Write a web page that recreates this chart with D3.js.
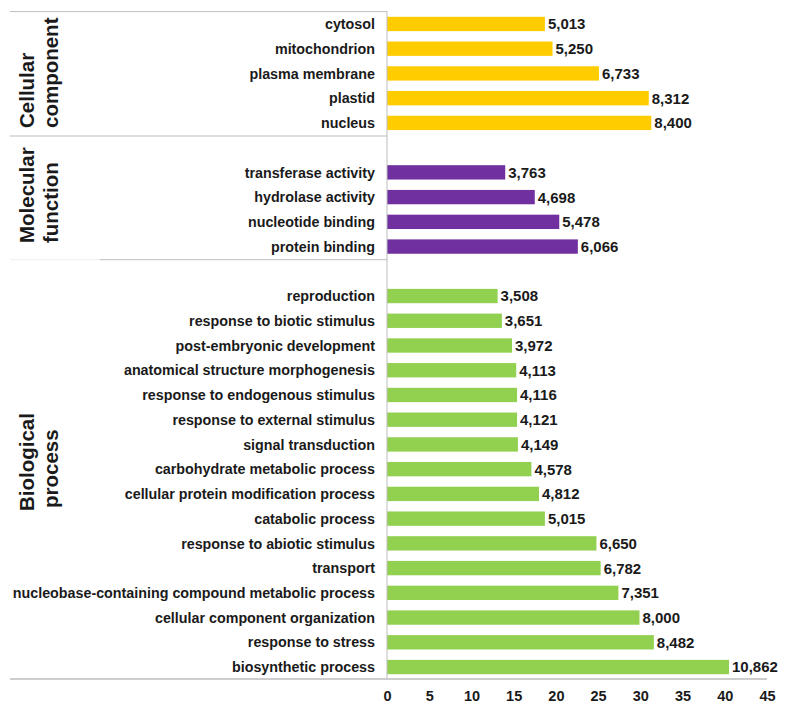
<!DOCTYPE html>
<html><head><meta charset="utf-8">
<script src="https://cdn.jsdelivr.net/npm/d3@7"></script>
<style>body{margin:0;background:#fff}svg{display:block}text{font-family:"Liberation Sans",Arial,sans-serif;font-weight:bold;fill:#1a1a1a}</style>
</head><body>
<svg id="c" width="789" height="718"></svg>
<script>
// Cellular component
const ccLabels = ["cytosol","mitochondrion","plasma membrane","plastid","nucleus"];
const ccCounts = [5013,5250,6733,8312,8400];
const ccPct = [18.7,19.6,25.1,31.0,31.3];
// Molecular function
const mfLabels = ["transferase activity","hydrolase activity","nucleotide binding","protein binding"];
const mfCounts = [3763,4698,5478,6066];
const mfPct = [14.0,17.5,20.4,22.6];
// Biological process
const bpLabels = ["reproduction","response to biotic stimulus","post-embryonic development","anatomical structure morphogenesis","response to endogenous stimulus","response to external stimulus","signal transduction","carbohydrate metabolic process","cellular protein modification process","catabolic process","response to abiotic stimulus","transport","nucleobase-containing compound metabolic process","cellular component organization","response to stress","biosynthetic process"];
const bpCounts = [3508,3651,3972,4113,4116,4121,4149,4578,4812,5015,6650,6782,7351,8000,8482,10862];
const bpPct = [13.1,13.6,14.8,15.3,15.4,15.4,15.5,17.1,18.0,18.7,24.8,25.3,27.4,29.9,31.6,40.5];
const xTicks = [0,5,10,15,20,25,30,35,40,45];
const groupNames = [["Cellular","component"],["Molecular","function"],["Biological","process"]];
const colors = ["#FFCC00","#7030A0","#92D050"];

const groups = [
  {labels:ccLabels,counts:ccCounts,pct:ccPct},
  {labels:mfLabels,counts:mfCounts,pct:mfPct},
  {labels:bpLabels,counts:bpCounts,pct:bpPct}
];
const rows = []; const slots = [];
groups.forEach((g,gi)=>{
  if(gi>0) slots.push("blank"+gi);
  g.labels.forEach((l,i)=>{ slots.push(l); rows.push({label:l,count:g.counts[i],pct:g.pct[i],g:gi}); });
});

const svg = d3.select("#c");
const x = d3.scaleLinear().domain([0,45]).range([387,767]);
const y = d3.scaleBand().domain(slots).range([11.6,679.4]).paddingInner(0.42).paddingOuter(0.21);
const fmt = d3.format(",");
const cy = l => y(l)+y.bandwidth()/2;

// bars
svg.append("g").selectAll("rect").data(rows).join("rect")
  .attr("x",x(0)).attr("y",d=>y(d.label)).attr("width",d=>x(d.pct)-x(0)).attr("height",y.bandwidth())
  .attr("fill",d=>colors[d.g]);

// value labels
svg.append("g").selectAll("text").data(rows).join("text")
  .attr("x",d=>x(d.pct)+3).attr("y",d=>cy(d.label)).attr("dy","0.36em")
  .style("font-size","15px").text(d=>fmt(d.count));

// category labels
svg.append("g").selectAll("text").data(rows).join("text")
  .attr("x",375).attr("y",d=>cy(d.label)).attr("dy","0.36em")
  .attr("text-anchor","end").style("font-size","14.3px").text(d=>d.label);

// section lines
const lineC = "#bdbdbd";
const sep1 = cy(ccLabels[ccLabels.length-1]) + y.step()*0.53;
const sep2 = cy(mfLabels[mfLabels.length-1]) + y.step()*0.53;
svg.append("line").attr("x1",10).attr("x2",x(0)).attr("y1",11.6).attr("y2",11.6).attr("stroke",lineC);
svg.append("line").attr("x1",10).attr("x2",x(0)).attr("y1",sep1).attr("y2",sep1).attr("stroke",lineC);
svg.append("line").attr("x1",10).attr("x2",100).attr("y1",sep2).attr("y2",sep2).attr("stroke","#eeeeee");
svg.append("line").attr("x1",100).attr("x2",x(0)).attr("y1",sep2).attr("y2",sep2).attr("stroke",lineC);

// axes
const axisY = 679;
svg.append("line").attr("x1",x(0)).attr("x2",x(0)).attr("y1",11.6).attr("y2",axisY).attr("stroke",lineC);
svg.append("line").attr("x1",10).attr("x2",x(45)).attr("y1",axisY).attr("y2",axisY).attr("stroke",lineC).attr("stroke-width",1.5);
const xAxis = svg.append("g").attr("transform",`translate(0,${axisY})`)
  .call(d3.axisBottom(x).tickValues(xTicks).tickSize(0).tickPadding(12));
xAxis.select(".domain").remove();
xAxis.selectAll("text").style("font-size","14.5px").style("font-family","'Liberation Sans',Arial,sans-serif").style("font-weight","bold").attr("fill","#1a1a1a");

// group labels
const starts = [[128,128],[243,243],[511,508]];
groupNames.forEach((n,i)=>{
  n.forEach((line,j)=>{
    svg.append("text").attr("transform",`translate(${34+24*j},${starts[i][j]}) rotate(-90)`)
      .style("font-size","20.5px").text(line);
  });
});
</script>
</body></html>
